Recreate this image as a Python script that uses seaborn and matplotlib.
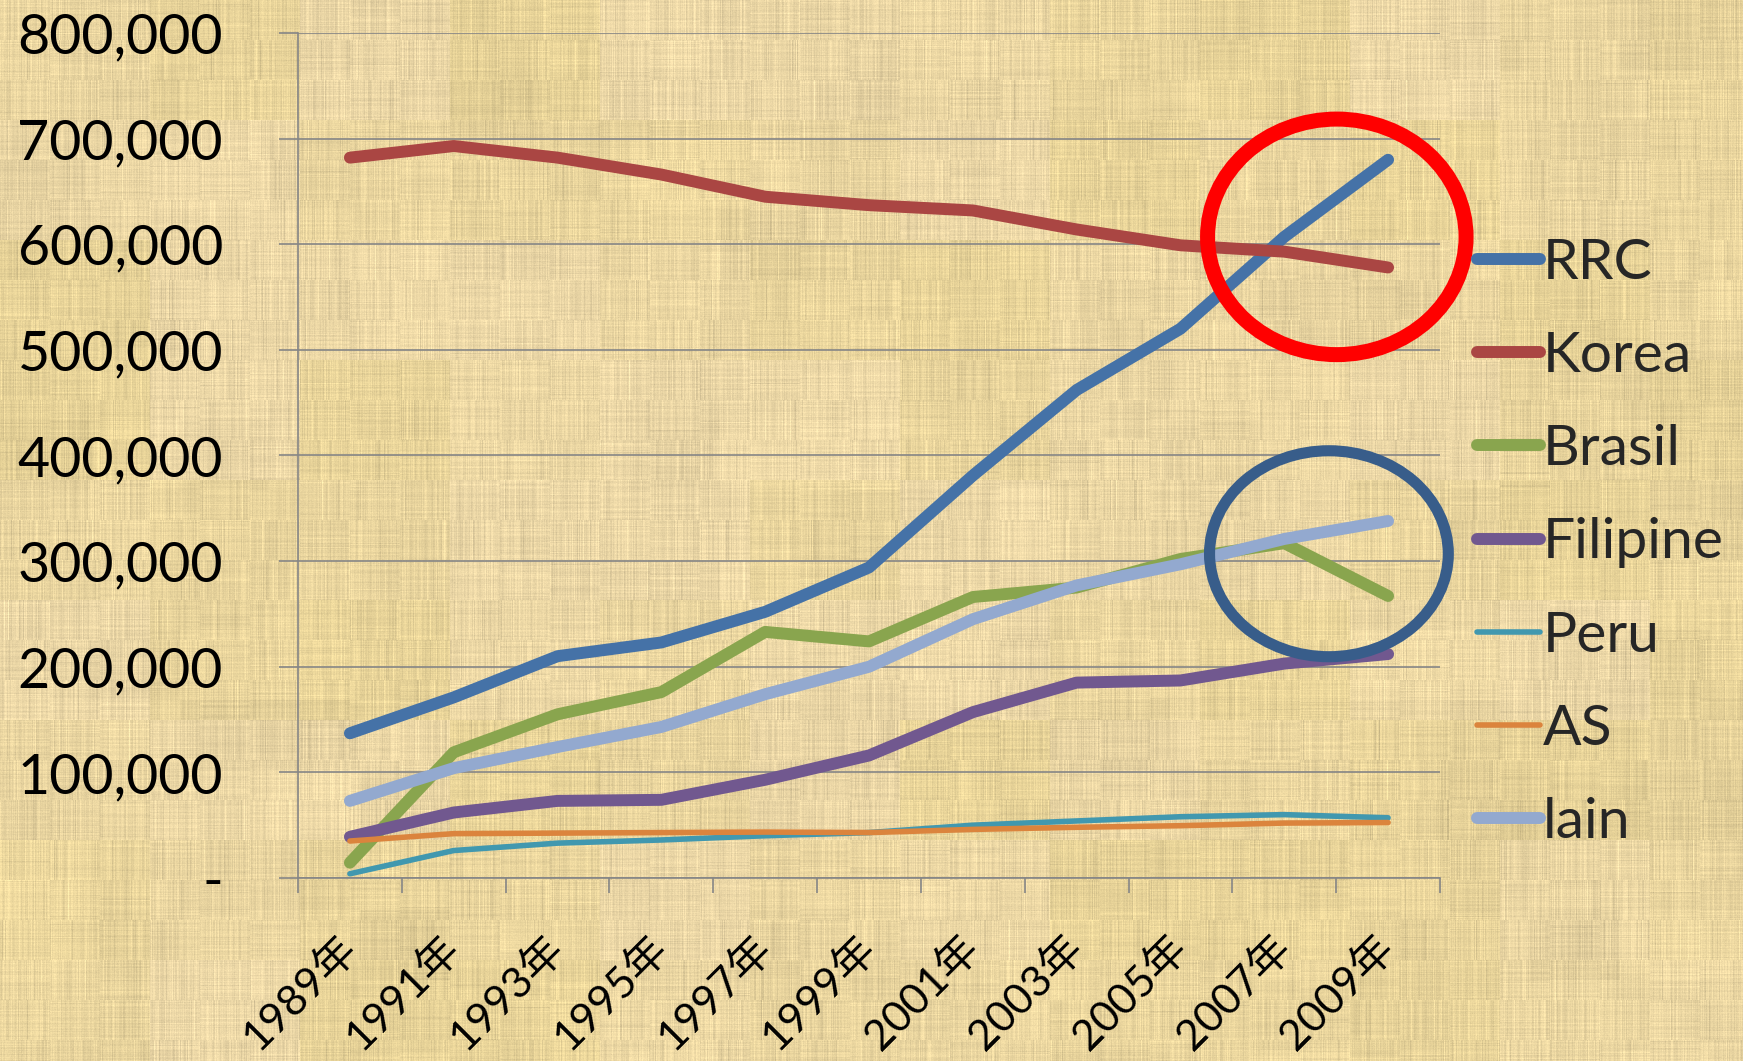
import numpy as np
import pandas as pd
import matplotlib
matplotlib.use('Agg')
import matplotlib.pyplot as plt
import seaborn as sns
from matplotlib.patches import Ellipse
from matplotlib.ticker import FuncFormatter, FixedLocator

# data (foreign residents, every 2 years)
years = ['1989年', '1991年', '1993年', '1995年', '1997年', '1999年',
         '2001年', '2003年', '2005年', '2007年', '2009年']
rrc = [137000, 171000, 210000, 223000, 252000, 294000, 381000, 462000, 520000, 607000, 680000]
korea = [682000, 693000, 682000, 666000, 645000, 637000, 632000, 614000, 599000, 593000, 578000]
brasil = [14500, 119000, 155000, 176000, 233000, 224000, 266000, 275000, 302000, 317000, 267000]
filipine = [39000, 62000, 73000, 74000, 93000, 116000, 157000, 185000, 187000, 203000, 212000]
peru = [4000, 26000, 33000, 36000, 40000, 43000, 50000, 54000, 58000, 60000, 57000]
as_ = [35000, 42000, 42500, 43000, 43500, 43000, 46000, 48000, 49500, 52000, 52500]
lain = [73000, 104000, 124000, 143000, 174000, 200000, 245000, 277000, 297000, 321000, 338000]

series = [('RRC', rrc, '#4572A7', 8.6),
          ('Korea', korea, '#AA4643', 8.6),
          ('Brasil', brasil, '#89A54E', 8.6),
          ('Filipine', filipine, '#71588F', 8.6),
          ('Peru', peru, '#4198AF', 4.0),
          ('AS', as_, '#DB843D', 4.0),
          ('lain', lain, '#93A9CF', 8.6)]

sns.set_theme(style='white')
plt.rcParams['font.family'] = ['Lato', 'Noto Sans CJK JP', 'DejaVu Sans']

W, H = 1743, 1061
fig = plt.figure(figsize=(W / 100, H / 100), dpi=100)

# papyrus-like background (texture only, not data)
rng = np.random.default_rng(7)
blocks = np.kron(rng.normal(size=(H // 70 + 2, W // 90 + 2)), np.ones((70, 90)))[:H, :W]
vert = np.repeat(rng.normal(size=(H // 40 + 2, W)), 40, axis=0)[:H]
horiz = np.repeat(rng.normal(size=(H, W // 50 + 2)), 50, axis=1)[:, :W]
fine = rng.normal(size=(H, W))
lum = 0.012 * blocks + 0.03 * vert + 0.018 * horiz + 0.012 * fine
pink = np.clip(0.5 + 0.5 * np.kron(rng.normal(size=(H // 120 + 2, W // 150 + 2)),
                                   np.ones((120, 150)))[:H, :W], 0, 1)
base_a = np.array([0.910, 0.830, 0.600])
base_b = np.array([0.935, 0.855, 0.690])
tex = base_a[None, None, :] * (1 - pink[..., None] * 0.6) + base_b[None, None, :] * (pink[..., None] * 0.6)
tex = np.clip(tex * (1 + lum[..., None]), 0, 1)
bg = fig.add_axes([0, 0, 1, 1], zorder=-10)
bg.imshow(tex, aspect='auto', interpolation='bilinear')
bg.axis('off')

ax = fig.add_axes([298 / W, 1 - 878 / H, (1440 - 298) / W, (878 - 33) / H])
ax.patch.set_alpha(0)

for name, vals, color, lw in series:
    sns.lineplot(x=years, y=vals, color=color, linewidth=lw, label=name, ax=ax,
                 solid_capstyle='round', solid_joinstyle='round', zorder=3)

ax.set_xlim(-0.5, len(years) - 0.5)
ax.set_ylim(0, 800000)
ax.set_yticks(range(0, 800001, 100000))
ax.yaxis.set_major_formatter(FuncFormatter(lambda v, p: '-' if v == 0 else f'{int(v):,}'))
ax.grid(axis='y', color='#868686', linewidth=1.2)
ax.grid(axis='x', visible=False)
ax.set_axisbelow(True)
for s in ['top', 'right']:
    ax.spines[s].set_visible(False)
for s in ['left', 'bottom']:
    ax.spines[s].set_color('#868686')
    ax.spines[s].set_linewidth(1.2)
ax.set_xlabel('')
ax.set_ylabel('')

ax.tick_params(axis='y', direction='out', length=14, width=1.2, color='#868686',
               pad=40, labelsize=40, labelcolor='black', left=True)
ax.xaxis.set_minor_locator(FixedLocator(np.arange(-0.5, len(years), 1.0)))
ax.tick_params(axis='x', which='minor', direction='out', length=11, width=1.2,
               color='#868686', bottom=True)
ax.tick_params(axis='x', which='major', length=0, pad=46, labelsize=31, labelcolor='black')
for lab in ax.get_xticklabels():
    lab.set_rotation(45)
    lab.set_ha('right')
    lab.set_va('center')
    lab.set_rotation_mode('anchor')

# highlight circles
ax.add_patch(Ellipse((9.506, 607000), 2.49, 223000, fill=False, edgecolor='#FF0000',
                     linewidth=10.8, clip_on=False, zorder=5))
ax.add_patch(Ellipse((9.43, 307000), 2.30, 195000, fill=False, edgecolor='#385D8A',
                     linewidth=8, clip_on=False, zorder=5))

leg = ax.legend(loc='center left', bbox_to_anchor=(1477 / W, 1 - 543 / H),
                bbox_transform=fig.transFigure, frameon=False, fontsize=41,
                handlelength=1.1, handletextpad=0.05, labelspacing=0.74,
                borderpad=0, borderaxespad=0)
for line in leg.get_lines():
    line.set_solid_capstyle('round')

fig.savefig('out.png', dpi=100)
